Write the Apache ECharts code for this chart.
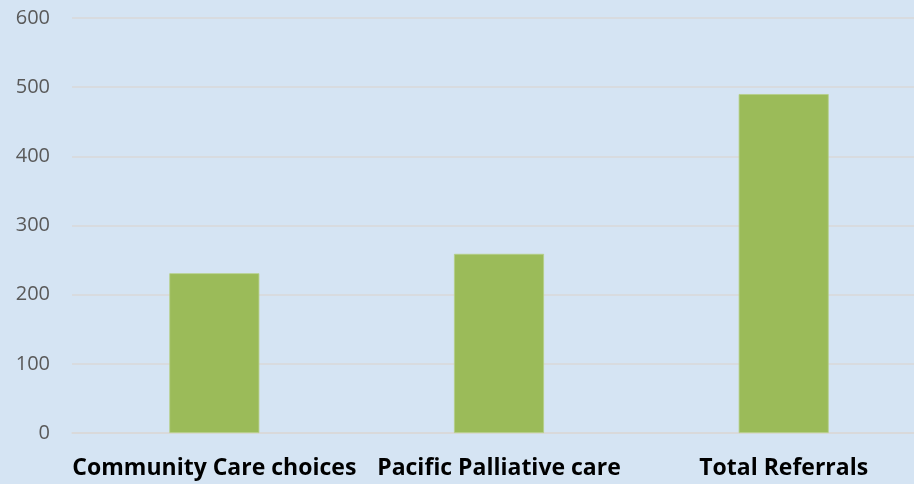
<!DOCTYPE html>
<html>
<head>
<meta charset="utf-8">
<script src="https://cdn.jsdelivr.net/npm/echarts@6/dist/echarts.min.js"></script>
<style>
html,body{margin:0;padding:0;background:#d5e4f3;}
#c{width:914px;height:484px;}
</style>
</head>
<body>
<div id="c"></div>
<script>
var categories = ['Community Care choices', 'Pacific Palliative care', 'Total Referrals'];
var values = [231, 259, 490];
var yTicks = [0, 100, 200, 300, 400, 500, 600];

var chart = echarts.init(document.getElementById('c'));
chart.setOption({
  backgroundColor: '#d5e4f3',
  animation: false,
  grid: {left: 72, right: -12, top: 18, bottom: 51, containLabel: false, outerBoundsMode: 'none'},
  xAxis: {
    type: 'category',
    data: categories,
    axisLine: {show: true, lineStyle: {color: '#d9d9d9', width: 1.5}},
    axisTick: {show: false},
    axisLabel: {
      color: '#000000', fontWeight: 'bold', fontSize: 23,
      fontFamily: 'Open Sans', margin: 24, interval: 0, hideOverlap: false
    }
  },
  yAxis: {
    type: 'value',
    min: yTicks[0], max: yTicks[yTicks.length - 1], interval: 100,
    axisLine: {show: false},
    axisTick: {show: false},
    splitLine: {lineStyle: {color: '#d9d9d9', width: 1.5}},
    axisLabel: {color: '#595959', fontSize: 20, fontFamily: 'Open Sans', margin: 22}
  },
  series: [{
    type: 'bar',
    data: values,
    barWidth: 90,
    itemStyle: {color: '#9bbb59', borderColor: '#b5cf86', borderWidth: 0.8}
  }]
});
</script>
</body>
</html>
